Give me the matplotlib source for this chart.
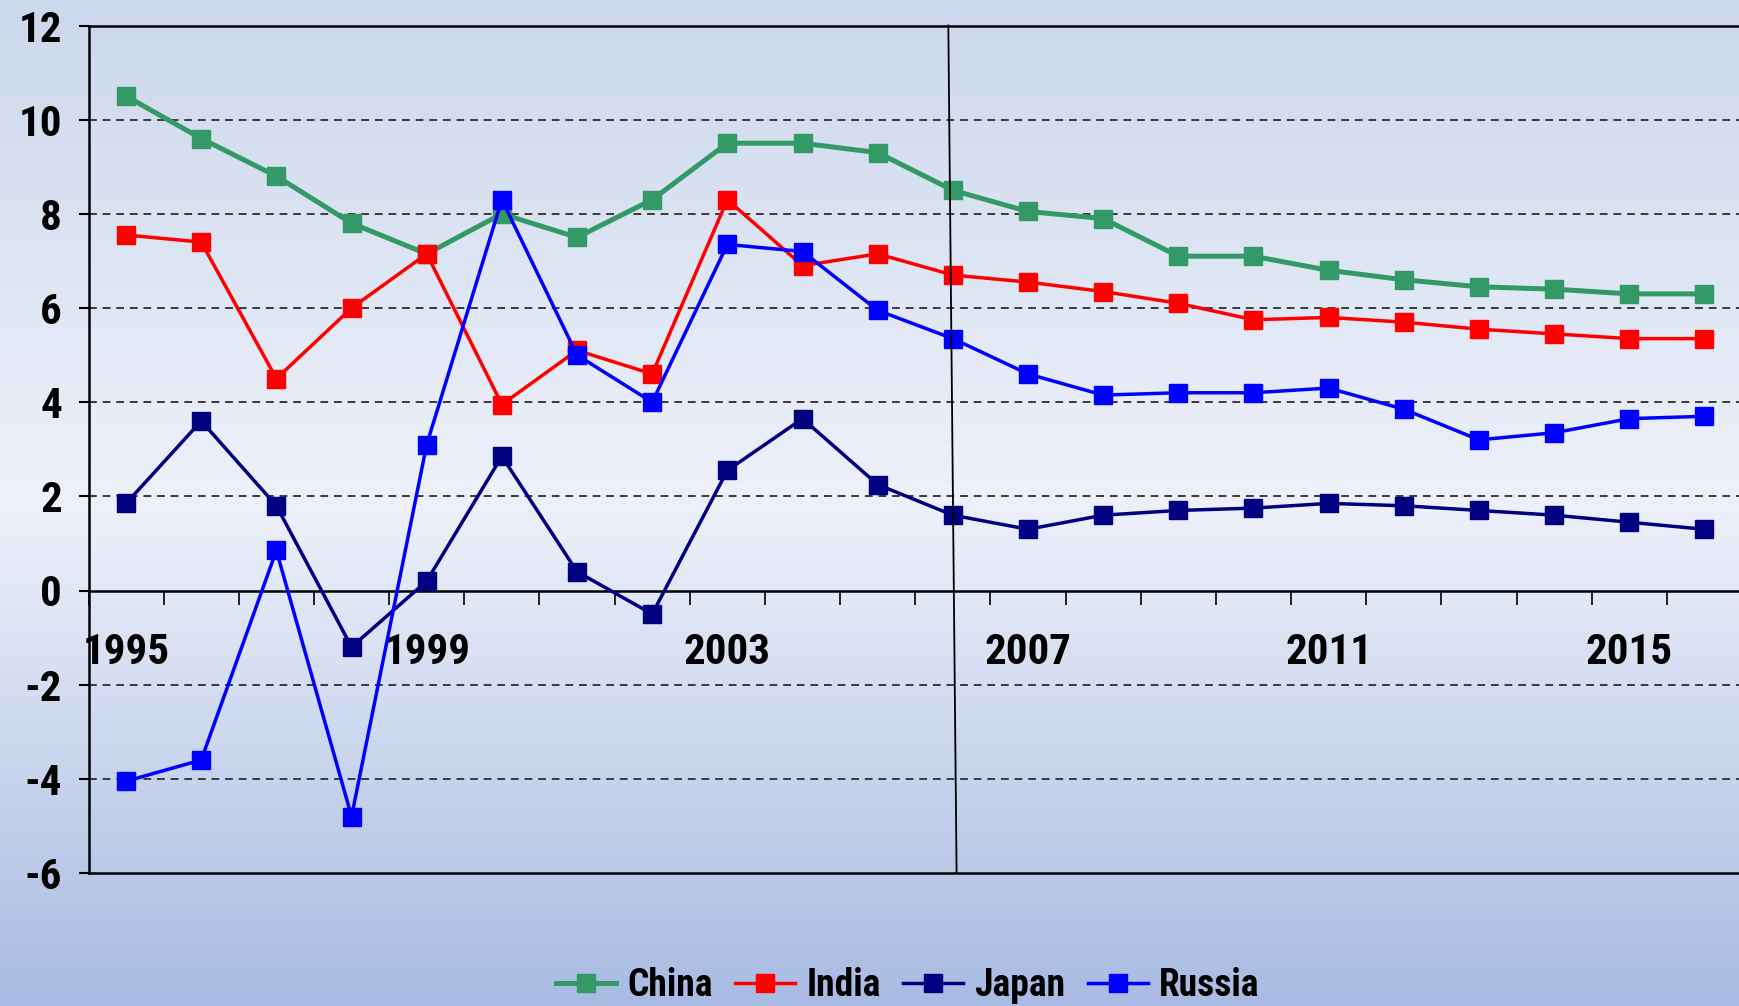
import numpy as np
import matplotlib
matplotlib.use("Agg")
import matplotlib.pyplot as plt
from matplotlib import font_manager as fm
from matplotlib.lines import Line2D

years = list(range(1995, 2017))
china = [10.5, 9.6, 8.8, 7.8, 7.15, 8.0, 7.5, 8.3, 9.5, 9.5, 9.3, 8.5, 8.05, 7.9, 7.1, 7.1, 6.8, 6.6, 6.45, 6.4, 6.3, 6.3]
india = [7.55, 7.4, 4.5, 6.0, 7.15, 3.95, 5.1, 4.6, 8.3, 6.9, 7.15, 6.7, 6.55, 6.35, 6.1, 5.75, 5.8, 5.7, 5.55, 5.45, 5.35, 5.35]
japan = [1.85, 3.6, 1.8, -1.2, 0.2, 2.85, 0.4, -0.5, 2.55, 3.65, 2.25, 1.6, 1.3, 1.6, 1.7, 1.75, 1.85, 1.8, 1.7, 1.6, 1.45, 1.3]
russia = [-4.05, -3.6, 0.85, -4.8, 3.1, 8.3, 5.0, 4.0, 7.35, 7.2, 5.95, 5.35, 4.6, 4.15, 4.2, 4.2, 4.3, 3.85, 3.2, 3.35, 3.65, 3.7]
labeled_years = [1995, 1999, 2003, 2007, 2011, 2015]
y_ticks = [-6, -4, -2, 0, 2, 4, 6, 8, 10, 12]

names = {f.name for f in fm.fontManager.ttflist}
fam = [f for f in ["Liberation Sans Narrow", "Roboto Condensed", "Liberation Sans"] if f in names] + ["DejaVu Sans"]
plt.rcParams['font.family'] = fam

W, H = 1739, 1006
fig = plt.figure(figsize=(W / 100, H / 100), dpi=100)

# background gradient
bg = fig.add_axes([0, 0, 1, 1], zorder=-5)
stops = np.array([0.0, 0.5, 1.0])
cols = np.array([[204, 216, 236], [238, 241, 250], [168, 187, 226]]) / 255.0
t = np.linspace(0, 1, 400)
grad = np.stack([np.interp(t, stops, cols[:, k]) for k in range(3)], axis=1)
bg.imshow(grad[:, None, :], aspect='auto', extent=[0, 1, 0, 1])
bg.set_axis_off()

left = 88.5 / W
right = 1742 / W
top = 1 - 25.5 / H
bottom = 1 - 873 / H
ax = fig.add_axes([left, bottom, right - left, top - bottom])
ax.set_facecolor('none')

x = np.arange(len(years))
series = [("China", china, "#339966", 3.6),
          ("India", india, "#ff0000", 2.5),
          ("Japan", japan, "#000080", 2.5),
          ("Russia", russia, "#0000ff", 2.5)]
for name, vals, c, lw in series:
    ax.plot(x, vals, color=c, lw=lw, marker='s', ms=13.5, mec=c, mfc=c, label=name, zorder=5, clip_on=False)

ax.set_xlim(-0.5, len(years) - 0.5)
ax.set_ylim(-6, 12)

# gridlines
for v in y_ticks:
    if v in (-6, 0, 12):
        continue
    ax.axhline(v, color='#3a3a3a', lw=1.4, ls=(0, (4, 3)), zorder=1)
ax.axhline(-6, color='black', lw=1.8, zorder=2, clip_on=False)

# vertical separator line
ax.plot([10.94, 11.05], [12, -6], color='black', lw=1.3, zorder=6, clip_on=False)

# spines
ax.spines['right'].set_visible(False)
ax.spines['top'].set_linewidth(1.8)
ax.spines['left'].set_linewidth(1.8)
ax.spines['bottom'].set_position(('data', 0))
ax.spines['bottom'].set_linewidth(1.8)

ax.set_yticks(y_ticks)
ax.set_yticklabels([str(v) for v in y_ticks], fontsize=31, fontweight='bold')
ax.tick_params(axis='y', direction='out', length=7, width=1.5, pad=12)

ax.set_xticks(np.arange(-0.5, len(years), 1.0))
ax.set_xticklabels([])
ax.tick_params(axis='x', which='major', direction='out', length=10, width=1.2)
lab_pos = [years.index(yv) for yv in labeled_years]
ax.set_xticks(lab_pos, minor=True)
ax.set_xticklabels([str(yv) for yv in labeled_years], minor=True, fontsize=31, fontweight='bold')
ax.tick_params(axis='x', which='minor', length=0, pad=30)

handles = [Line2D([], [], color=c, lw=lw, marker='s', ms=13.5, mec=c, mfc=c) for _, _, c, lw in series]
fig.legend(handles, [s[0] for s in series], loc='center', bbox_to_anchor=(0.522, 0.02), ncol=4,
           frameon=False, prop={'size': 27, 'weight': 'bold'}, handlelength=1.6, handletextpad=0.3,
           columnspacing=0.6, borderaxespad=0)

fig.savefig("out.png", dpi=100)
